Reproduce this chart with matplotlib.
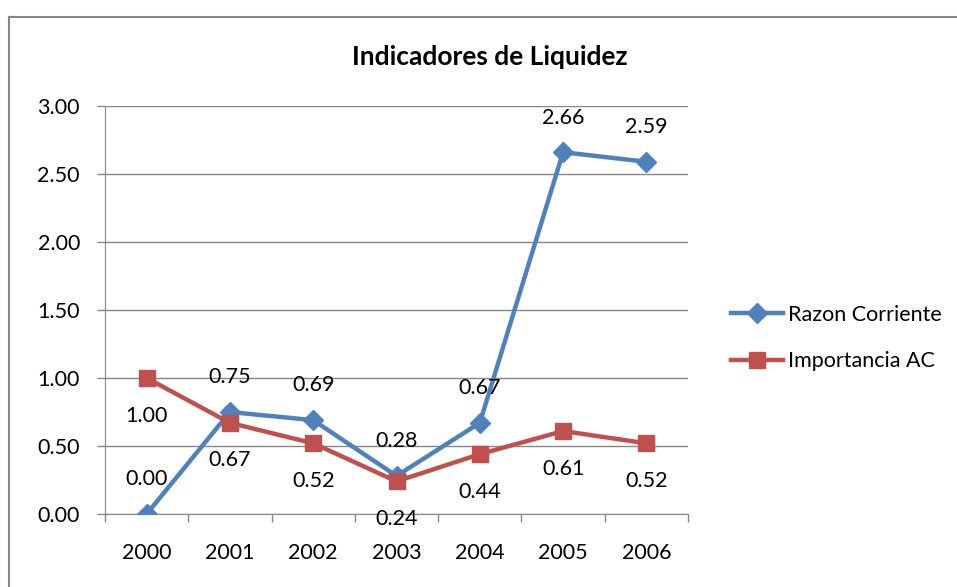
import matplotlib
matplotlib.use("Agg")
import matplotlib.pyplot as plt
from matplotlib.lines import Line2D

plt.rcParams['font.family'] = ['Lato', 'DejaVu Sans']

anios = ['2000', '2001', '2002', '2003', '2004', '2005', '2006']
razon_corriente = [0.00, 0.75, 0.69, 0.28, 0.67, 2.66, 2.59]
importancia_ac = [1.00, 0.67, 0.52, 0.24, 0.44, 0.61, 0.52]

azul = '#4F81BD'
rojo = '#C0504D'
gris = '#868686'

fig = plt.figure(figsize=(9.57, 5.87), dpi=100)
ax = fig.add_axes([105/957, 73/587, 583/957, 408/587])

x = list(range(len(anios)))
ax.plot(x, razon_corriente, color=azul, lw=3.2, marker='D', ms=10.5,
        label='Razon Corriente', zorder=3)
ax.plot(x, importancia_ac, color=rojo, lw=3.2, marker='s', ms=12,
        label='Importancia AC', zorder=3)

# etiquetas de datos
for i in x:
    ax.annotate('%.2f' % razon_corriente[i], (i, razon_corriente[i]),
                xytext=(0, 25), textcoords='offset points',
                ha='center', va='center', fontsize=15.5)
    ax.annotate('%.2f' % importancia_ac[i], (i, importancia_ac[i]),
                xytext=(0, -27), textcoords='offset points',
                ha='center', va='center', fontsize=15.5)

ax.set_xlim(-0.5, len(anios) - 0.5)
ax.set_ylim(0, 3)
ax.set_yticks([0, 0.5, 1.0, 1.5, 2.0, 2.5, 3.0])
ax.set_yticklabels(['%.2f' % v for v in ax.get_yticks()])
ax.set_xticks(x)
ax.set_xticklabels(anios)
ax.set_xticks([i - 0.5 for i in range(len(anios) + 1)], minor=True)
ax.tick_params(axis='x', which='major', length=0, pad=21, labelsize=15.5)
ax.tick_params(axis='x', which='minor', length=6, color=gris, width=1)
ax.tick_params(axis='y', length=6, color=gris, width=1, pad=12, labelsize=15.5)
ax.yaxis.grid(True, color=gris, lw=1)
ax.set_axisbelow(True)
for s in ['top', 'right']:
    ax.spines[s].set_visible(False)
ax.spines['left'].set_color(gris)
ax.spines['bottom'].set_color(gris)

fig.text(490/957, 1 - 57/587, 'Indicadores de Liquidez', ha='center',
         va='center', fontsize=19, fontweight='bold')

fig.legend(loc='center left', bbox_to_anchor=(712/957, 1 - 338/587),
           frameon=False, fontsize=15.5, handlelength=2.4, labelspacing=1.25,
           handletextpad=0.25)

# marco del grafico
fig.add_artist(Line2D([9/957, 9/957], [0, 1 - 17/587], color=gris, lw=1.5))
fig.add_artist(Line2D([9/957, 1], [1 - 17/587, 1 - 17/587], color=gris, lw=1.5))

fig.savefig('out.png', dpi=100)
